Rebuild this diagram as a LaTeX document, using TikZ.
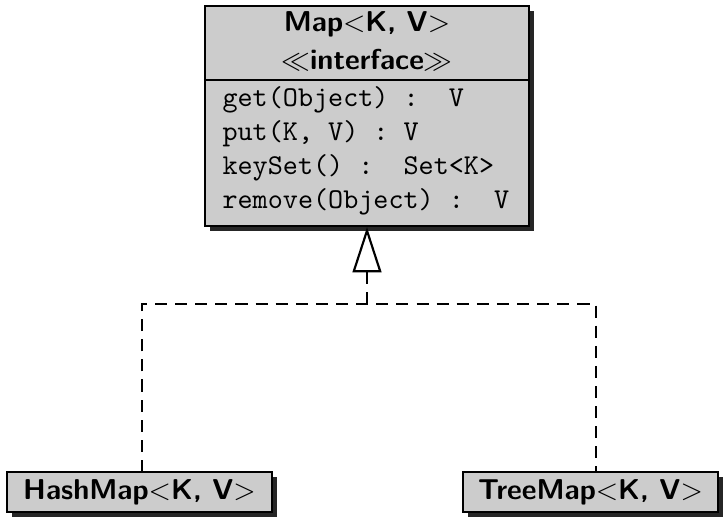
\documentclass[tikz,border=0pt]{standalone}
\usepackage{fix-cm}
\usepackage{fontspec}
\usetikzlibrary{shadows,arrows.meta}
\tikzset{
  umlbox/.style={draw=black, line width=0.8pt, fill=black!20, inner sep=0pt,
    drop shadow={shadow xshift=1.8pt, shadow yshift=-1.8pt, opacity=1, fill=black!85}},
  title/.style={font=\sffamily\bfseries, inner sep=0pt},
  method/.style={font=\ttfamily, inner sep=0pt, anchor=west},
  realize/.style={line width=0.75pt, dash pattern=on 4.2pt off 2.8pt},
}
\begin{document}
\begin{tikzpicture}[x=0.348pt,y=-0.348pt]
\useasboundingbox (0,0) rectangle (724,520);
% interface box
\node[umlbox, minimum width=324*0.348pt, minimum height=220*0.348pt] (map) at (367,116) {};
\draw[line width=0.8pt] (map.west |- 0,80) coordinate (dl) -- (map.east |- 0,80) coordinate (dr);
\node[title] (mapname) at (367,24) {Map$<$K, V$>$};
\node[title] (stereo) at (367,60) {$\ll$interface$\gg$};
\node[method] (m1) at (222,100) {get(Object) :\ \ V};
\node[method] (m2) at (222,134) {put(K, V) : V};
\node[method] (m3) at (222,168) {keySet() :\ \ Set<K>};
\node[method] (m4) at (222,202) {remove(Object) :\ \ V};
% implementing classes
\node[umlbox, minimum width=265*0.348pt, minimum height=40*0.348pt] (hash) at (139.5,492) {};
\node[title] (hashname) at (hash.center) {HashMap$<$K, V$>$};
\node[umlbox, minimum width=255*0.348pt, minimum height=40*0.348pt] (tree) at (590.5,492) {};
\node[title] (treename) at (tree.center) {TreeMap$<$K, V$>$};
% connectors
\coordinate (j) at (367,304);
\coordinate (hl) at (142,472);
\coordinate (tl) at (596,472);
\draw[realize] (hl) |- (j) -| (tl);
\draw[realize, -{Triangle[open, length=15.7pt, width=10pt, line width=0.75pt]}] (j) -- (map.south);
\end{tikzpicture}
\end{document}
